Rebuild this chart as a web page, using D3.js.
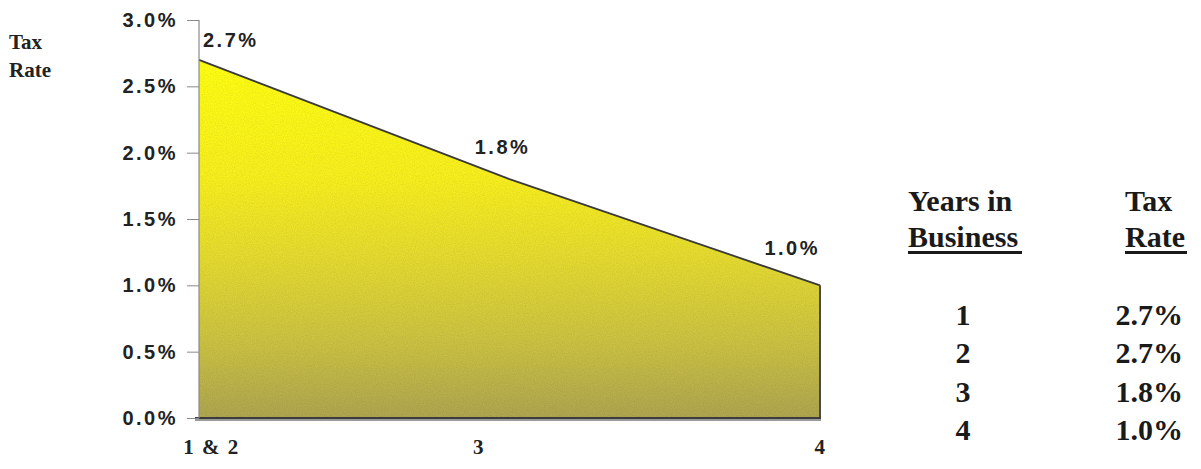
<!DOCTYPE html>
<html>
  <head>
    <meta charset="utf-8">
    <title>Tax rate by years in business</title>
    <style>
      body { margin: 0; background: #fff; }
      svg { display: block; }
    </style>
  </head>
  <body>
    <script src="https://cdn.jsdelivr.net/npm/d3@7"></script>
    <script type="text/javascript">
      // chart data
      var categories = ["1 & 2", "3", "4"];
      var rates = [2.7, 1.8, 1.0];
      var yTicks = [0, 0.5, 1.0, 1.5, 2.0, 2.5, 3.0];

      // table on the right
      var tableYears = [1, 2, 3, 4];
      var tableRates = [2.7, 2.7, 1.8, 1.0];

      var width = 1201;
      var height = 469;

      var svg = d3.select("body")
                  .append("svg")
                  .attr("width", width)
                  .attr("height", height);

      var x = d3.scalePoint()
                .domain(categories)
                .range([199, 820]);

      var y = d3.scaleLinear()
                .domain([0, 3.0])
                .range([418, 20]);

      var pct = function(d) { return d3.format(".1f")(d) + "%"; };

      // gradient + grain for the fill
      var defs = svg.append("defs");
      var grad = defs.append("linearGradient")
                     .attr("id", "fillGrad")
                     .attr("gradientUnits", "userSpaceOnUse")
                     .attr("x1", 0).attr("x2", 0)
                     .attr("y1", y(2.7)).attr("y2", y(0));
      grad.append("stop").attr("offset", "0%").attr("stop-color", "#ffff12");
      grad.append("stop").attr("offset", "33%").attr("stop-color", "#f9f01e");
      grad.append("stop").attr("offset", "55%").attr("stop-color", "#e6dc30");
      grad.append("stop").attr("offset", "78%").attr("stop-color", "#cdc442");
      grad.append("stop").attr("offset", "100%").attr("stop-color", "#afa650");

      var noise = defs.append("filter").attr("id", "grain")
                      .attr("x", 0).attr("y", 0).attr("width", "100%").attr("height", "100%");
      noise.append("feTurbulence")
           .attr("type", "fractalNoise")
           .attr("baseFrequency", 0.9)
           .attr("numOctaves", 2)
           .attr("seed", 3)
           .attr("result", "n");
      noise.append("feColorMatrix")
           .attr("in", "n")
           .attr("type", "matrix")
           .attr("values", "0 0 0 0 0  0 0 0 0 0  0 0 0 0 0  0 0 0 0.35 -0.1")
           .attr("result", "dark");
      noise.append("feComposite")
           .attr("in", "dark")
           .attr("in2", "SourceGraphic")
           .attr("operator", "in");

      var area = d3.area()
                   .x(function(d, i) { return x(categories[i]); })
                   .y0(y(0))
                   .y1(function(d) { return y(d); });

      svg.append("path")
         .datum(rates)
         .attr("d", area)
         .attr("fill", "url(#fillGrad)");

      svg.append("path")
         .datum(rates)
         .attr("d", area)
         .attr("fill", "#fff")
         .attr("filter", "url(#grain)")
         .attr("opacity", 0.35);

      // outline: top line, right edge, baseline
      var line = d3.line()
                   .x(function(d, i) { return x(categories[i]); })
                   .y(function(d) { return y(d); });

      svg.append("path")
         .datum(rates)
         .attr("d", line)
         .attr("fill", "none")
         .attr("stroke", "#3a3a3a")
         .attr("stroke-width", 1.8);

      var last = categories[categories.length - 1];
      svg.append("line")
         .attr("x1", x(last)).attr("x2", x(last))
         .attr("y1", y(rates[rates.length - 1])).attr("y2", y(0))
         .attr("stroke", "#4a4a4a")
         .attr("stroke-width", 2);

      svg.append("line")
         .attr("x1", x(categories[0]) - 4).attr("x2", x(last) + 1)
         .attr("y1", y(0) + 2).attr("y2", y(0) + 2)
         .attr("stroke", "#9a9a9a")
         .attr("stroke-width", 2);
      svg.append("line")
         .attr("x1", x(categories[0]) - 4).attr("x2", x(last) + 1)
         .attr("y1", y(0)).attr("y2", y(0))
         .attr("stroke", "#3c3c3c")
         .attr("stroke-width", 2);

      // y axis
      var yAxis = svg.append("g")
                     .attr("transform", "translate(" + x(categories[0]) + ",0)")
                     .call(d3.axisLeft(y)
                             .tickValues(yTicks)
                             .tickFormat(pct)
                             .tickSize(12)
                             .tickPadding(9));
      yAxis.select(".domain").remove();
      yAxis.selectAll(".tick line").attr("stroke", "#8a8a8a");
      yAxis.selectAll(".tick text")
           .attr("font-family", "'Liberation Sans', Arial, sans-serif")
           .attr("font-weight", "bold")
           .attr("font-size", 20)
           .attr("letter-spacing", 2.5)
           .attr("fill", "#222");
      yAxis.append("line")
           .attr("x1", 0).attr("x2", 0)
           .attr("y1", y(3.0)).attr("y2", y(0))
           .attr("stroke", "#8a8a8a")
           .attr("stroke-width", 1.2);

      // x axis labels
      var xAxis = svg.append("g")
                     .attr("transform", "translate(0," + y(0) + ")")
                     .call(d3.axisBottom(x).tickSize(0).tickPadding(21));
      xAxis.select(".domain").remove();
      xAxis.selectAll(".tick text")
           .attr("font-family", "'Liberation Serif', 'Times New Roman', serif")
           .attr("font-weight", "bold")
           .attr("font-size", 21)
           .attr("letter-spacing", 1.5)
           .attr("fill", "#222")
           .attr("dx", function(d, i) { return i === 0 ? 12 : (i === 1 ? -31 : 0); });

      // value labels
      svg.selectAll("text.val")
         .data(rates)
         .enter()
         .append("text")
         .attr("class", "val")
         .attr("x", function(d, i) { return x(categories[i]); })
         .attr("y", function(d) { return y(d); })
         .attr("dx", function(d, i) { return i === 0 ? 4 : (i === 1 ? -7 : 0); })
         .attr("dy", function(d, i) { return i === 0 ? -13 : (i === 1 ? -25 : -30); })
         .attr("text-anchor", function(d, i) { return i === 0 ? "start" : (i === 1 ? "middle" : "end"); })
         .attr("font-family", "'Liberation Sans', Arial, sans-serif")
         .attr("font-weight", "bold")
         .attr("font-size", 20)
         .attr("letter-spacing", 2.5)
         .attr("fill", "#222")
         .text(pct);

      // y title
      var serif = "'Liberation Serif', 'Times New Roman', serif";
      var yTitle = svg.append("text")
                      .attr("font-family", serif)
                      .attr("font-weight", "bold")
                      .attr("font-size", 21)
                      .attr("fill", "#222");
      yTitle.append("tspan").attr("x", 9).attr("y", 49).text("Tax");
      yTitle.append("tspan").attr("x", 9).attr("y", 77).text("Rate");

      // table
      var table = svg.append("g")
                     .attr("font-family", serif)
                     .attr("font-weight", "bold")
                     .attr("font-size", 30)
                     .attr("fill", "#1a1a1a");

      table.append("text").attr("x", 908).attr("y", 211).text("Years in");
      table.append("text").attr("x", 908).attr("y", 247).text("Business");
      table.append("text").attr("x", 1125).attr("y", 211).text("Tax");
      table.append("text").attr("x", 1125).attr("y", 247).text("Rate");

      table.append("rect").attr("x", 908).attr("y", 251).attr("width", 114).attr("height", 3);
      table.append("rect").attr("x", 1125).attr("y", 251).attr("width", 62).attr("height", 3);

      var rowY = d3.scalePoint()
                   .domain(tableYears)
                   .range([325, 440]);

      table.selectAll("text.yr")
           .data(tableYears)
           .enter()
           .append("text")
           .attr("class", "yr")
           .attr("x", 963)
           .attr("y", function(d) { return rowY(d); })
           .attr("text-anchor", "middle")
           .text(function(d) { return d; });

      table.selectAll("text.rt")
           .data(tableRates)
           .enter()
           .append("text")
           .attr("class", "rt")
           .attr("x", 1183)
           .attr("y", function(d, i) { return rowY(tableYears[i]); })
           .attr("text-anchor", "end")
           .text(pct);
    </script>
  </body>
</html>
